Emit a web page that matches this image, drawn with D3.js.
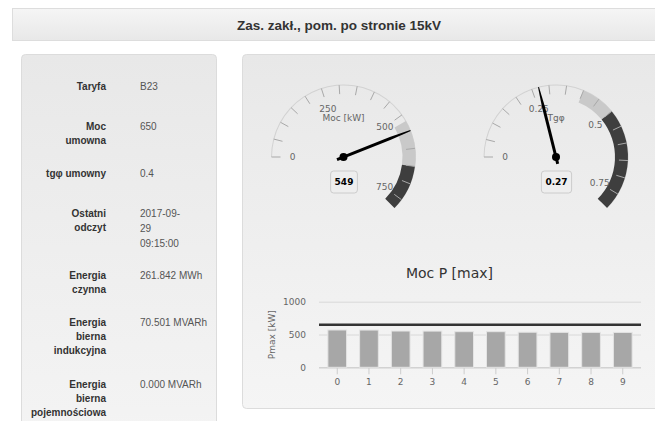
<!DOCTYPE html>
<html>
<head>
<meta charset="utf-8">
<script src="https://cdn.jsdelivr.net/npm/d3@7"></script>
<style>
body { margin: 0; background: #fff; }
svg { display: block; }
</style>
</head>
<body>
<svg id="chart" width="655" height="421"></svg>
<script>
// Data
const pageTitle = "Zas. zakł., pom. po stronie 15kV";
const infoLabels = [["Taryfa"], ["Moc", "umowna"], ["tgφ umowny"], ["Ostatni", "odczyt"],
    ["Energia", "czynna"], ["Energia", "bierna", "indukcyjna"], ["Energia", "bierna", "pojemnościowa"]];
const infoValues = [["B23"], ["650"], ["0.4"], ["2017-09-", "29", "09:15:00"],
    ["261.842 MWh"], ["70.501 MVARh"], ["0.000 MVARh"]];

const gaugeTitles = ["Moc [kW]", "Tgφ"];
const gaugeValues = [549, 0.27];
const gaugeValueText = ["549", "0.27"];
const gaugeMax = [780, 0.8];
const gaugeTickStep = [50, 0.05];
const gaugeTickLabels = [["0", "250", "500", "750"], ["0", "0.25", "0.5", "0.75"]];
const gaugeTickLabelValues = [[0, 250, 500, 750], [0, 0.25, 0.5, 0.75]];
const gaugeBands = [[[520, 650], [650, 780]], [[0.4, 0.5], [0.5, 0.8]]];
const bandColors = ["#c9c9c9", "#3e3e3e"];

const barTitle = "Moc P [max]";
const barAxisTitle = "Pmax [kW]";
const barCategories = ["0", "1", "2", "3", "4", "5", "6", "7", "8", "9"];
const barValues = [569, 568, 553, 552, 543, 543, 535, 533, 533, 532];
const contractPower = 650;
const barTicks = [0, 500, 1000];

const svg = d3.select("#chart");
const defs = svg.append("defs");

const headGrad = defs.append("linearGradient").attr("id", "headGrad")
    .attr("x1", 0).attr("y1", 0).attr("x2", 0).attr("y2", 1);
headGrad.append("stop").attr("offset", "0%").attr("stop-color", "#f5f5f5");
headGrad.append("stop").attr("offset", "100%").attr("stop-color", "#e8e8e8");

const wellGrad = defs.append("linearGradient").attr("id", "wellGrad")
    .attr("x1", 0).attr("y1", 0).attr("x2", 0).attr("y2", 1);
wellGrad.append("stop").attr("offset", "0%").attr("stop-color", "#e8e8e8");
wellGrad.append("stop").attr("offset", "100%").attr("stop-color", "#f5f5f5");

// header
svg.append("rect")
    .attr("x", 12.5).attr("y", 8.5).attr("width", 660).attr("height", 32)
    .attr("fill", "url(#headGrad)").attr("stroke", "#dddddd");
svg.append("text")
    .attr("x", 339).attr("y", 29.5)
    .attr("text-anchor", "middle")
    .style("font", "bold 13.5px 'Liberation Sans', Arial, sans-serif")
    .style("fill", "#333")
    .text(pageTitle);

// wells
svg.append("rect")
    .attr("x", 21.5).attr("y", 54.5).attr("width", 195).attr("height", 420).attr("rx", 4)
    .attr("fill", "url(#wellGrad)").attr("stroke", "#dcdcdc");
svg.append("rect")
    .attr("x", 242.5).attr("y", 54.5).attr("width", 430).attr("height", 354).attr("rx", 4)
    .attr("fill", "url(#wellGrad)").attr("stroke", "#dcdcdc");

// info table
let rowY = 90.3;
infoLabels.forEach((lab, i) => {
    const vals = infoValues[i];
    const g = svg.append("g");
    lab.forEach((t, j) => {
        g.append("text").attr("x", 106).attr("y", rowY + j * 14).attr("text-anchor", "end")
            .style("font", "bold 10px 'Liberation Sans', Arial, sans-serif")
            .style("fill", "#333").text(t);
    });
    vals.forEach((t, j) => {
        g.append("text").attr("x", 140).attr("y", rowY + j * 15)
            .style("font", "10px 'Liberation Sans', Arial, sans-serif")
            .style("fill", "#555").text(t);
    });
    const n = Math.max(lab.length, vals.length);
    rowY += Math.max(40, n * 15 + 17);
});

// gauges
const gaugeCenters = [[343.5, 157], [556, 157]];
const R = 72;
const rad = d => d * Math.PI / 180;

gaugeValues.forEach((val, gi) => {
    const [cx, cy] = gaugeCenters[gi];
    const ang = d3.scaleLinear().domain([0, gaugeMax[gi]]).range([-90, 135]);
    const g = svg.append("g").attr("transform", `translate(${cx},${cy})`);

    // axis line
    g.append("path")
        .attr("d", d3.arc().innerRadius(R - 0.5).outerRadius(R + 0.5)
            .startAngle(rad(-90)).endAngle(rad(135))())
        .attr("fill", "#d2d2d2");

    // plot bands
    gaugeBands[gi].forEach((b, bi) => {
        g.append("path")
            .attr("d", d3.arc().innerRadius(R - 13).outerRadius(R)
                .startAngle(rad(ang(b[0]))).endAngle(rad(ang(b[1])))())
            .attr("fill", bandColors[bi]);
    });

    // ticks
    const nTicks = Math.floor(gaugeMax[gi] / gaugeTickStep[gi] + 1e-6);
    d3.range(nTicks + 1).forEach(k => {
        const a = rad(ang(k * gaugeTickStep[gi]));
        g.append("line")
            .attr("x1", R * Math.sin(a)).attr("y1", -R * Math.cos(a))
            .attr("x2", (R - 9) * Math.sin(a)).attr("y2", -(R - 9) * Math.cos(a))
            .attr("stroke", "#a8a8a8").attr("stroke-width", 1);
    });

    // tick labels
    gaugeTickLabelValues[gi].forEach((v, k) => {
        const a = rad(ang(v));
        g.append("text")
            .attr("x", 51 * Math.sin(a)).attr("y", -51 * Math.cos(a))
            .attr("dy", "0.35em").attr("text-anchor", "middle")
            .style("font", "9px 'DejaVu Sans', sans-serif").style("fill", "#666")
            .text(gaugeTickLabels[gi][k]);
    });

    // title
    g.append("text").attr("x", 0).attr("y", -39).attr("dy", "0.35em")
        .attr("text-anchor", "middle")
        .style("font", "9px 'DejaVu Sans', sans-serif").style("fill", "#666")
        .text(gaugeTitles[gi]);

    // needle
    g.append("path")
        .attr("transform", `rotate(${ang(val) - 90})`)
        .attr("d", `M${-7},-1.5 L${R * 0.7},-1.5 L${R},-0.5 L${R},0.5 L${R * 0.7},1.5 L${-7},1.5 Z`)
        .attr("fill", "#000");
    g.append("circle").attr("r", 4).attr("fill", "#000");

    // value box
    const lbl = g.append("text").attr("x", 0.5).attr("y", 25).attr("dy", "0.35em")
        .attr("text-anchor", "middle")
        .style("font", "bold 9px 'DejaVu Sans', sans-serif").style("fill", "#000")
        .text(gaugeValueText[gi]);
    const w = lbl.node().getComputedTextLength() + 8;
    g.insert("rect", "text:last-of-type")
        .attr("x", 0.5 - w / 2).attr("y", 14).attr("width", w).attr("height", 22).attr("rx", 3)
        .attr("fill", "#eeeeee").attr("stroke", "#cccccc");
});

// bar chart
const plot = { left: 319, right: 641, top: 301.7, bottom: 367.3 };
const x = d3.scaleBand().domain(barCategories).range([plot.left, plot.right])
    .paddingInner(0).paddingOuter(0.075);
const y = d3.scaleLinear().domain([0, 1000]).range([plot.bottom, plot.top]);

svg.append("text").attr("x", 449.5).attr("y", 273.3).attr("dy", "0.35em")
    .attr("text-anchor", "middle")
    .style("font", "14px 'DejaVu Sans', sans-serif").style("fill", "#333")
    .text(barTitle);

const yAxis = svg.append("g").attr("transform", `translate(${plot.left},0)`)
    .call(d3.axisLeft(y).tickValues(barTicks).tickFormat(d3.format("d"))
        .tickSize(-(plot.right - plot.left)).tickPadding(13));
yAxis.select(".domain").remove();
yAxis.selectAll("line").attr("stroke", "#d8d8d8");
yAxis.selectAll("text").style("font", "9px 'DejaVu Sans', sans-serif").style("fill", "#666");

svg.append("text")
    .attr("transform", `translate(271.7,334.7) rotate(-90)`)
    .attr("dy", "0.35em").attr("text-anchor", "middle")
    .style("font", "9px 'DejaVu Sans', sans-serif").style("fill", "#666")
    .text(barAxisTitle);

const xAxis = svg.append("g").attr("transform", `translate(0,${plot.bottom})`)
    .call(d3.axisBottom(x).tickSize(7).tickSizeOuter(0).tickPadding(4));
xAxis.select(".domain").attr("stroke", "#cccccc").attr("d", `M${plot.left},0.5H${plot.right}`);
xAxis.selectAll("line").attr("stroke", "#cccccc");
xAxis.selectAll("text").style("font", "9px 'DejaVu Sans', sans-serif").style("fill", "#666");

const bw = x.bandwidth() * 0.59;
svg.append("g").selectAll("rect").data(barValues).enter().append("rect")
    .attr("x", (d, i) => x(barCategories[i]) + x.bandwidth() / 2 - bw / 2)
    .attr("y", d => y(d))
    .attr("width", bw)
    .attr("height", d => y(0) - y(d))
    .attr("fill", "#a7a7a7")
    .attr("stroke", "#e4e4e4").attr("stroke-width", 1);

svg.append("line")
    .attr("x1", plot.left).attr("x2", plot.right)
    .attr("y1", y(contractPower)).attr("y2", y(contractPower))
    .attr("stroke", "#333").attr("stroke-width", 2.5);
</script>
</body>
</html>
